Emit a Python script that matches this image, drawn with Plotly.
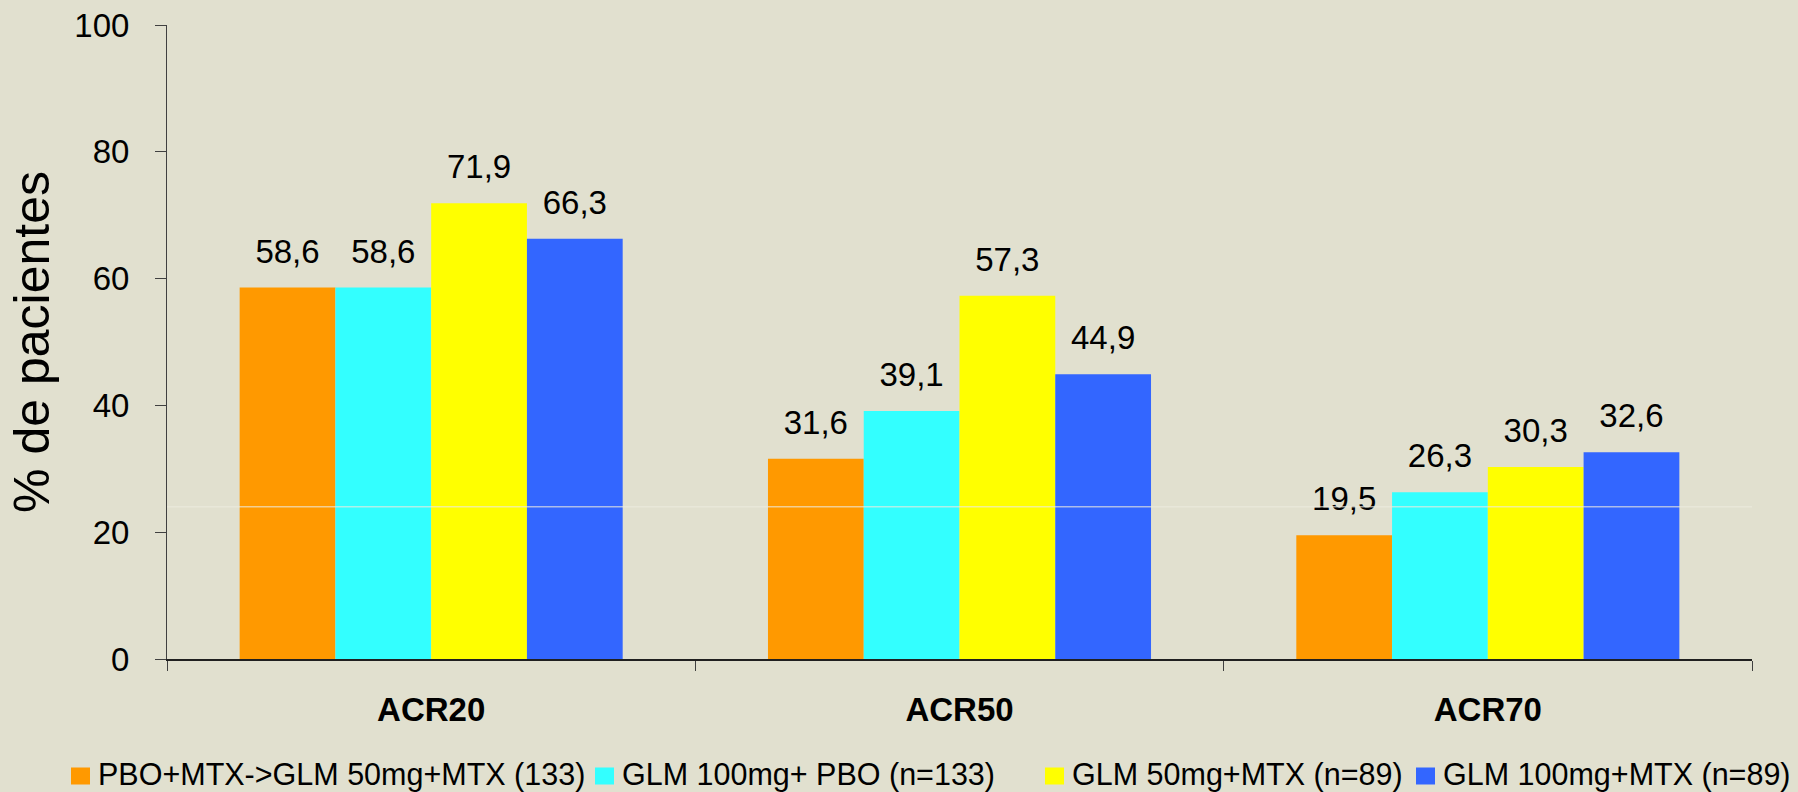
import plotly.graph_objects as go

# ACR response rates (% of patients) per treatment arm
categories = ["ACR20", "ACR50", "ACR70"]
series_names = [
    "PBO+MTX->GLM 50mg+MTX (133)",
    "GLM 100mg+ PBO (n=133)",
    "GLM 50mg+MTX (n=89)",
    "GLM 100mg+MTX (n=89)",
]
pbo_mtx = [58.6, 31.6, 19.5]
glm100_pbo = [58.6, 39.1, 26.3]
glm50_mtx = [71.9, 57.3, 30.3]
glm100_mtx = [66.3, 44.9, 32.6]
series_values = [pbo_mtx, glm100_pbo, glm50_mtx, glm100_mtx]
colors = ["#FF9900", "#33FFFF", "#FFFF00", "#3366FF"]
y_ticks = [0, 20, 40, 60, 80, 100]

BG = "#E1E0CF"
FONT = "Liberation Sans, Arial, sans-serif"

# page geometry (pixels)
W_FIG, H_FIG = 1798, 792
M_L, M_R, M_T, M_B = 167, 46, 25, 133
PLOT_W = W_FIG - M_L - M_R
PLOT_H = H_FIG - M_T - M_B


def paper_x(px):
    return (px - M_L) / PLOT_W


def paper_y(py):
    return (H_FIG - M_B - py) / PLOT_H


fig = go.Figure()

for i, (name, vals, col) in enumerate(zip(series_names, series_values, colors)):
    fig.add_trace(go.Bar(
        x=categories, y=vals, name=name, marker=dict(color=col, line_width=0),
        offsetgroup=str(i), showlegend=False,
    ))

# value labels above each bar, grouped the same way as the bars
for i, vals in enumerate(series_values):
    fig.add_trace(go.Scatter(
        x=categories, y=vals, mode="markers+text",
        text=[f"{v:.1f}".replace(".", ",") for v in vals],
        textposition="top center",
        textfont=dict(family=FONT, size=33, color="#000000"),
        marker=dict(size=25, color="rgba(0,0,0,0)"),
        offsetgroup=str(i), showlegend=False, hoverinfo="skip", cliponaxis=False,
    ))

# legend row along the bottom: colour square + label
legend_left_px = [71, 595, 1045, 1416]
legend_mid_py = 774
swatch_w, swatch_h, text_offset = 19, 17, 25

shapes = [dict(
    type="line", xref="paper", x0=0, x1=1, yref="y", y0=24, y1=24,
    line=dict(color="rgba(236,235,222,1)", width=1), layer="above",
)]
annotations = []
for name, col, lx in zip(series_names, colors, legend_left_px):
    shapes.append(dict(
        type="rect", xref="paper", yref="paper",
        x0=paper_x(lx), x1=paper_x(lx + swatch_w),
        y0=paper_y(legend_mid_py + swatch_h / 2 + 2), y1=paper_y(legend_mid_py - swatch_h / 2 + 2),
        fillcolor=col, line=dict(width=0),
    ))
    annotations.append(dict(
        text=name, xref="paper", yref="paper",
        x=paper_x(lx + text_offset), y=paper_y(legend_mid_py),
        xanchor="left", yanchor="middle", showarrow=False,
        font=dict(family=FONT, size=30.5, color="#000000"),
    ))

fig.update_layout(
    width=W_FIG, height=H_FIG,
    paper_bgcolor=BG, plot_bgcolor=BG,
    barmode="group", bargap=0.275, bargroupgap=0,
    scattermode="group", scattergap=0.275,
    margin=dict(l=M_L, r=M_R, t=M_T, b=M_B, autoexpand=False),
    font=dict(family=FONT, color="#000000"),
    showlegend=False,
    shapes=shapes,
    annotations=annotations,
)

fig.update_xaxes(
    type="category", tickson="boundaries",
    showline=True, linecolor="#202020", linewidth=2,
    ticks="outside", ticklen=10, tickcolor="#404040", tickwidth=1,
    tickfont=dict(family=FONT, size=33, color="#000000", weight="bold"),
    ticklabelstandoff=20,
    showgrid=False, zeroline=False,
)

fig.update_yaxes(
    range=[0, 100], tickvals=y_ticks,
    showline=True, linecolor="#404040", linewidth=1,
    ticks="outside", ticklen=11, tickcolor="#404040", tickwidth=1,
    tickfont=dict(family=FONT, size=33, color="#000000"),
    ticklabelstandoff=19,
    showgrid=False, zeroline=False,
    title=dict(text="% de pacientes", font=dict(family=FONT, size=50, color="#000000"), standoff=8),
)

fig.write_html("out.html")
